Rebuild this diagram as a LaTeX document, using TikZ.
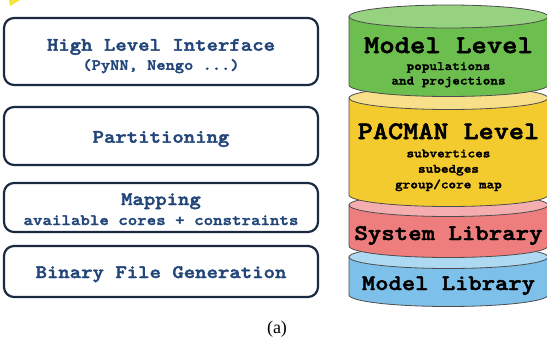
\documentclass[tikz,border=0pt]{standalone}
\usepackage{fontspec}
\setmainfont{Liberation Serif}
\newfontfamily\slabmono[Extension=.otf, UprightFont=lmmonolt10-bold, FakeStretch=1.143, FakeBold=2.2]{lmmonolt10-bold}
\usetikzlibrary{shapes, backgrounds, positioning}

\definecolor{navy}{HTML}{1B2A41}
\definecolor{inkblue}{HTML}{23467A}
\definecolor{rim}{HTML}{4D4D4D}
\definecolor{greenbody}{HTML}{6CBF4E}
\definecolor{greentop}{HTML}{96D27F}
\definecolor{yellowbody}{HTML}{F4CB2F}
\definecolor{yellowtop}{HTML}{F8DF8A}
\definecolor{redbody}{HTML}{EE7D7D}
\definecolor{redtop}{HTML}{F5AEB0}
\definecolor{bluebody}{HTML}{7DC0E9}
\definecolor{bluetop}{HTML}{AED9F3}
\definecolor{marker}{HTML}{F2E43A}

\newcommand{\fsz}[1]{\fontsize{#1}{#1}\selectfont}

% one layer of the stack: name, top, bottom, body colour, lid colour
\newcommand{\drum}[5]{%
  \filldraw[draw=rim, line width=0.8pt, fill=#4] (349,#2) -- (349,#3)
    arc[start angle=180, end angle=0, x radius=99.5, y radius=11.5] -- (548,#2) -- cycle;
  \filldraw[draw=rim, line width=0.8pt, fill=#5] (448.5,#2) ellipse[x radius=99.5, y radius=11.5];
  \coordinate (#1) at (448.5,#2);
}

\begin{document}
\begin{tikzpicture}[x=1pt, y=-1pt, line join=round]
        \tikzstyle{every node}=[inner sep=0pt, align=center]
        \tikzstyle{stage}=[draw=navy, line width=2.2pt, rounded corners=10pt, minimum width=314pt]
        \tikzstyle{stagetext}=[text=inkblue, anchor=base]
        \tikzstyle{drumtext}=[text=black, anchor=base]
        \clip (0,0) rectangle (547,340);

        \fill[marker] (9,0) -- (20,0) -- (10,6) -- cycle;

        % tool flow
        \node at (161,51.5) [stage, minimum height=67pt] (hli) {};
        \node at (161,136) [stage, minimum height=58pt] (part) {};
        \node at (161,207.5) [stage, minimum height=49pt] (map) {};
        \node at (161,271.5) [stage, minimum height=51pt] (bin) {};

        \node at (161,50.7) [stagetext, font=\slabmono\fsz{19}] (hlititle) {High Level Interface};
        \node at (161,69.8) [stagetext, font=\slabmono\fsz{15.4}] (hlinote) {(PyNN, Nengo ...)};
        \node at (161,142.7) [stagetext, font=\slabmono\fsz{19}] (parttitle) {Partitioning};
        \node at (161,205) [stagetext, font=\slabmono\fsz{19}] (maptitle) {Mapping};
        \node at (161,225) [stagetext, font=\slabmono\fsz{15.8}] (mapnote) {available cores + constraints};
        \node at (161,278) [stagetext, font=\slabmono\fsz{19}] (bintitle) {Binary File Generation};

        % software stack, bottom layer first
        \drum{modlib}{257}{295}{bluebody}{bluetop}
        \drum{syslib}{205}{246}{redbody}{redtop}
        \drum{pacman}{98}{195}{yellowbody}{yellowtop}
        \drum{model}{16.5}{85}{greenbody}{greentop}

        \node at (448.5,53) [drumtext, font=\slabmono\fsz{25.6}] (modeltitle) {Model Level};
        \node at (448.5,70) [drumtext, font=\slabmono\fsz{12.7}] (modelnote1) {populations};
        \node at (448.5,84.5) [drumtext, font=\slabmono\fsz{12.7}] (modelnote2) {and projections};
        \node at (448.5,139) [drumtext, font=\slabmono\fsz{25.2}] (pacmantitle) {PACMAN Level};
        \node at (448.5,157.3) [drumtext, font=\slabmono\fsz{12.7}] (pacmannote1) {subvertices};
        \node at (448.5,172.7) [drumtext, font=\slabmono\fsz{12.7}] (pacmannote2) {subedges};
        \node at (448.5,188.3) [drumtext, font=\slabmono\fsz{12.7}] (pacmannote3) {group/core map};
        \node at (448.5,240) [drumtext, font=\slabmono\fsz{22.4}] (syslibtitle) {System Library};
        \node at (448.5,290) [drumtext, font=\slabmono\fsz{22.2}] (modlibtitle) {Model Library};

        \node at (277,333) [anchor=base, font=\fsz{18}] (caption) {(a)};
\end{tikzpicture}
\end{document}
